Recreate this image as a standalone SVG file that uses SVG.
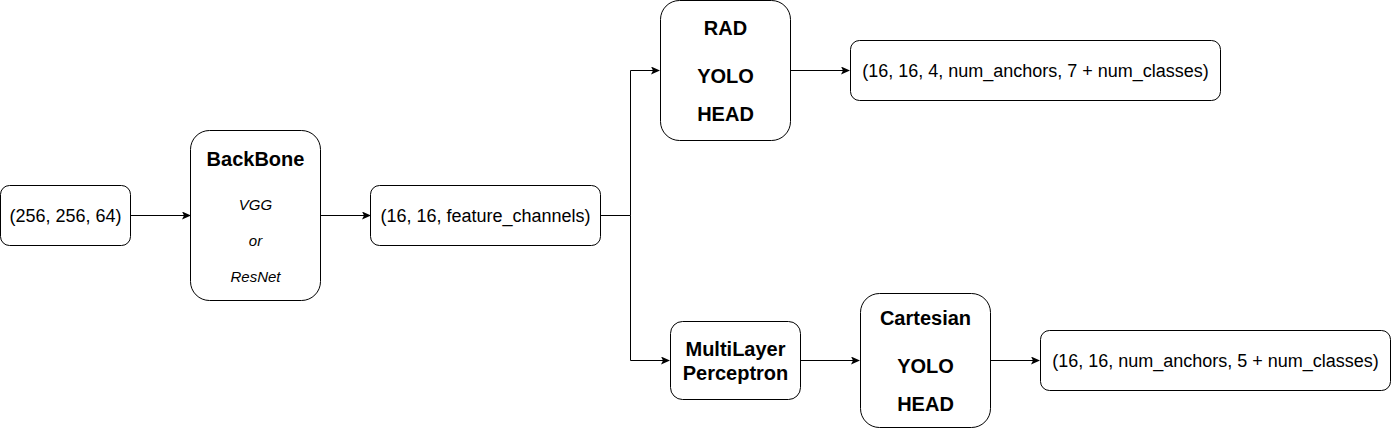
<svg xmlns="http://www.w3.org/2000/svg" width="1391" height="429" viewBox="0 0 1391 429">
<style>
.box{fill:#fff;stroke:#000;stroke-width:1}
.t{font-family:"Liberation Sans",Arial,sans-serif;font-size:18px;fill:#000;text-anchor:middle;dominant-baseline:central}
.b{font-family:"Liberation Sans",Arial,sans-serif;font-size:20px;font-weight:bold;fill:#000;text-anchor:middle;dominant-baseline:central}
.i{font-family:"Liberation Sans",Arial,sans-serif;font-size:15px;font-style:italic;fill:#000;text-anchor:middle;dominant-baseline:central}
.c{fill:none;stroke:#000;stroke-width:1}
</style>
<defs>
<marker id="ah" markerWidth="10" markerHeight="10" refX="8" refY="4" orient="auto" markerUnits="userSpaceOnUse">
<path d="M0,0 L9,4 L0,8 L2,4 Z" fill="#000"/>
</marker>
</defs>
<rect width="1391" height="429" fill="#fff"/>
<g id="connectors">
<line class="c" x1="131" y1="215.5" x2="190" y2="215.5" marker-end="url(#ah)"/>
<line class="c" x1="320" y1="215.5" x2="370" y2="215.5" marker-end="url(#ah)"/>
<polyline class="c" points="600,215.5 630.5,215.5 630.5,70.5 659,70.5" marker-end="url(#ah)"/>
<polyline class="c" points="630.5,215.5 630.5,360.5 669,360.5" marker-end="url(#ah)"/>
<line class="c" x1="790" y1="70.5" x2="849" y2="70.5" marker-end="url(#ah)"/>
<line class="c" x1="800" y1="360.5" x2="859" y2="360.5" marker-end="url(#ah)"/>
<line class="c" x1="990" y1="360.5" x2="1039" y2="360.5" marker-end="url(#ah)"/>
</g>
<g id="input">
<rect class="box" x="0.5" y="185.5" width="130" height="60" rx="9"/>
<text class="t" x="65.5" y="215.5">(256, 256, 64)</text>
</g>
<g id="backbone">
<rect class="box" x="190.5" y="130.5" width="130" height="170" rx="19"/>
<text class="b" x="255.5" y="159">BackBone</text>
<text class="i" x="255.5" y="204">VGG</text>
<text class="i" x="255.5" y="240">or</text>
<text class="i" x="255.5" y="276">ResNet</text>
</g>
<g id="features">
<rect class="box" x="370.5" y="185.5" width="230" height="60" rx="9"/>
<text class="t" x="485.5" y="215.5">(16, 16, feature_channels)</text>
</g>
<g id="rad">
<rect class="box" x="660.5" y="0.5" width="130" height="140" rx="19"/>
<text class="b" x="725.5" y="28">RAD</text>
<text class="b" x="725.5" y="76">YOLO</text>
<text class="b" x="725.5" y="114">HEAD</text>
</g>
<g id="out1">
<rect class="box" x="850.5" y="40.5" width="370" height="60" rx="9"/>
<text class="t" x="1035.5" y="70.5">(16, 16, 4, num_anchors, 7 + num_classes)</text>
</g>
<g id="mlp">
<rect class="box" x="670.5" y="321.5" width="130" height="78" rx="12"/>
<text class="b" x="735.5" y="349">MultiLayer</text>
<text class="b" x="735.5" y="373">Perceptron</text>
</g>
<g id="cartesian">
<rect class="box" x="860.5" y="293.5" width="130" height="134" rx="19"/>
<text class="b" x="925.5" y="318">Cartesian</text>
<text class="b" x="925.5" y="366">YOLO</text>
<text class="b" x="925.5" y="404">HEAD</text>
</g>
<g id="out2">
<rect class="box" x="1040.5" y="330.5" width="350" height="60" rx="9"/>
<text class="t" x="1215.5" y="360.5">(16, 16, num_anchors, 5 + num_classes)</text>
</g>
</svg>
